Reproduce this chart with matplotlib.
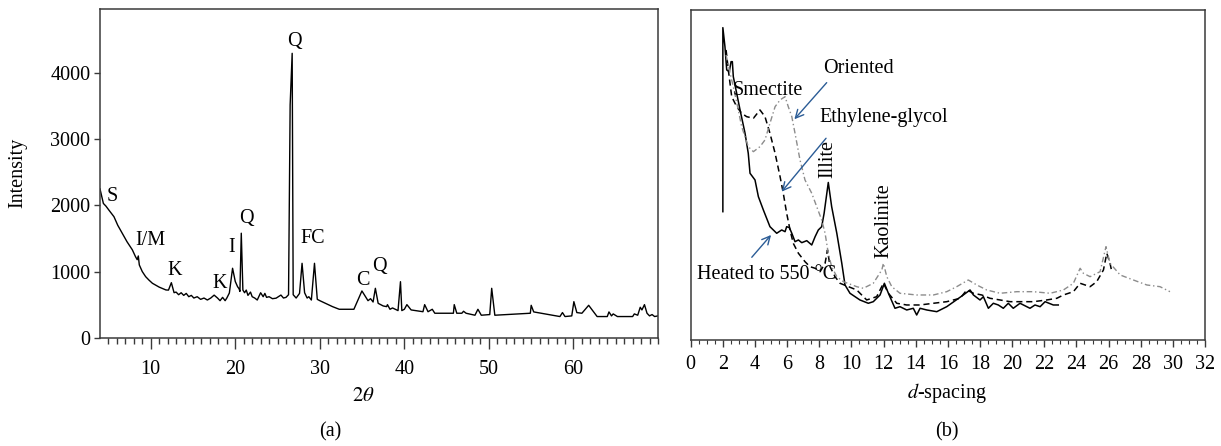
import matplotlib
matplotlib.use('Agg')
import matplotlib.pyplot as plt
import numpy as np

plt.rcParams['font.family'] = ['Liberation Serif', 'DejaVu Serif']
plt.rcParams['mathtext.fontset'] = 'stix'
plt.rcParams['font.size'] = 14.5

# (a) bulk powder pattern
two_theta = [4.0, 4.4, 4.7, 5.05, 5.65, 6.1, 6.63, 7.2, 7.82, 8.2, 8.4, 8.53, 8.65, 9.0, 9.4, 9.8,
             10.2, 11.0, 11.8, 12.1, 12.44, 12.76, 13.0, 13.3, 13.6, 13.9, 14.2, 14.5, 14.8, 15.1,
             15.5, 15.9, 16.3, 16.7, 17.1, 17.5, 17.9, 18.2, 18.5, 18.8, 19.0, 19.3, 19.68, 20.0,
             20.27, 20.45, 20.55, 20.71, 20.9, 21.1, 21.3, 21.5, 21.8, 22.0, 22.3, 22.6, 23.0, 23.3,
             23.5, 23.7, 24.0, 24.4, 24.83, 25.4, 25.7, 26.0, 26.3, 26.49, 26.73, 26.85, 27.2, 27.6,
             27.9, 28.2, 28.5, 28.7, 29.0, 29.37, 29.7, 30.0, 31.5, 32.3, 34.03, 34.98, 35.7, 36.0,
             36.3, 36.57, 36.9, 37.5, 37.9, 38.0, 38.3, 38.6, 39.25, 39.54, 39.7, 40.0, 40.3, 40.8,
             41.8, 42.2, 42.4, 42.8, 43.3, 43.6, 45.8, 45.9, 46.2, 46.8, 47.0, 47.3, 48.35, 48.7,
             49.1, 50.1, 50.33, 50.7, 54.9, 55.0, 55.3, 58.4, 58.7, 59.0, 59.8, 60.05, 60.4, 61.0,
             61.8, 62.8, 64.0, 64.2, 64.5, 64.7, 65.2, 67.0, 67.2, 67.6, 67.9, 68.1, 68.4, 68.7,
             69.0, 69.3, 69.6, 70.0]
intensity = [2250, 2030, 1990, 1930, 1830, 1700, 1580, 1450, 1330, 1225, 1180, 1236, 1100, 1000, 923, 870,
             823, 765, 722, 720, 832, 681, 690, 650, 680, 640, 670, 620, 640, 600,
             620, 580, 600, 570, 600, 644, 600, 560, 610, 560, 600, 676, 1050, 850,
             772, 740, 700, 1580, 721, 680, 720, 640, 690, 620, 600, 570, 680, 620,
             670, 610, 620, 590, 598, 645, 600, 610, 650, 3520, 4300, 650, 600, 670,
             1125, 680, 600, 620, 570, 1125, 580, 560, 470, 430, 430, 707, 560, 590,
             540, 747, 520, 480, 470, 500, 430, 450, 410, 847, 410, 430, 500, 420,
             400, 393, 500, 393, 430, 370, 370, 500, 370, 370, 400, 370, 340, 430,
             340, 350, 747, 340, 370, 490, 390, 320, 380, 320, 330, 545, 380, 370,
             490, 320, 320, 390, 330, 360, 320, 320, 360, 340, 460, 420, 500, 370,
             330, 350, 320, 330]

peak_labels = ['S', 'I/M', 'K', 'K', 'I', 'Q', 'Q', 'FC', 'C', 'Q']
peak_label_x = [5.44, 10.0, 12.85, 18.1, 19.6, 21.27, 27.0, 29.17, 35.1, 37.08]
peak_label_y = [2133, 1467, 1014, 823, 1368, 1796, 4478, 1504, 858, 1074]

# (b) oriented clay fraction, three treatments
heated_d = [2.0, 2.0, 2.13, 2.24, 2.40, 2.51, 2.59, 2.65, 2.86, 3.07, 3.38, 3.58, 3.69, 4.00, 4.21,
            4.52, 4.93, 5.35, 5.66, 5.87, 5.97, 6.14, 6.29, 6.49, 6.70, 6.91, 7.22, 7.53, 7.74,
            7.94, 8.15, 8.30, 8.56, 8.77, 9.09, 9.40, 9.60, 9.91, 10.53, 11.05, 11.36, 11.78,
            12.05, 12.30, 12.71, 13.02, 13.44, 13.85, 14.06, 14.27, 14.69, 15.31, 15.93, 16.96,
            17.38, 17.59, 18.00, 18.21, 18.52, 18.83, 19.14, 19.45, 19.76, 20.07, 20.49, 20.91,
            21.11, 21.42, 21.74, 22.05, 22.56, 22.87]
heated_i = [1283, 3123, 2933, 2700, 2683, 2783, 2783, 2633, 2467, 2300, 2067, 1867, 1667, 1600, 1433,
            1300, 1133, 1067, 1100, 1083, 1133, 1123, 1067, 983, 1000, 973, 993, 950, 1033,
            1100, 1133, 1267, 1575, 1333, 1067, 767, 550, 467, 400, 367, 383, 450,
            567, 467, 317, 333, 300, 317, 250, 317, 300, 283, 333, 450,
            500, 450, 400, 433, 317, 367, 350, 317, 367, 317, 367, 333,
            317, 350, 333, 383, 350, 350]

glycol_d = [2.20, 2.34, 2.55, 2.86, 3.17, 3.48, 3.90, 4.31, 4.62, 4.93, 5.25, 5.56, 5.76, 5.97, 6.18,
            6.38, 6.70, 7.11, 7.42, 7.74, 8.05, 8.36, 8.51, 8.67, 8.98, 9.29, 10.33, 10.95, 11.57,
            11.99, 12.30, 12.82, 13.44, 14.27, 15.10, 15.93, 16.76, 17.18, 17.59, 18.11, 18.62,
            19.25, 19.87, 20.49, 21.32, 22.15, 22.78, 23.19, 23.81, 24.23, 24.85, 25.26, 25.68,
            25.89, 26.09, 26.20]
glycol_i = [2900, 2700, 2433, 2333, 2267, 2233, 2217, 2300, 2233, 2067, 1867, 1633, 1467, 1267, 1100,
            967, 867, 783, 733, 717, 683, 767, 900, 733, 633, 567, 500, 400, 433,
            567, 467, 367, 350, 350, 367, 383, 417, 500, 467, 450, 417,
            400, 383, 383, 383, 400, 417, 450, 483, 567, 533, 583, 700,
            867, 767, 683]

oriented_d = [2.20, 2.45, 2.65, 2.96, 3.17, 3.58, 3.90, 4.31, 4.62, 4.93, 5.25, 5.56, 5.87, 6.07, 6.29,
              6.49, 6.80, 7.11, 7.53, 7.84, 8.15, 8.36, 8.56, 8.77, 9.09, 9.50, 10.33, 10.74, 11.36,
              11.89, 11.99, 12.20, 12.51, 13.02, 14.06, 15.10, 15.93, 16.55, 17.27, 17.80, 18.42,
              19.25, 20.29, 21.32, 22.36, 23.19, 23.81, 24.23, 24.43, 24.85, 25.47, 25.84, 26.09,
              26.72, 27.54, 28.38, 29.20, 29.82]
oriented_i = [2850, 2667, 2533, 2300, 2133, 1933, 1883, 1933, 2000, 2167, 2333, 2400, 2433, 2333, 2233,
              2067, 1800, 1600, 1467, 1333, 1200, 1067, 867, 733, 633, 583, 533, 517, 567,
              700, 767, 633, 533, 467, 450, 450, 483, 533, 600, 550, 500,
              467, 483, 483, 467, 500, 567, 717, 667, 633, 683, 933, 767,
              650, 600, 550, 533, 483]

frame_col = '#3a3a3a'
arrow_col = '#2b5c96'

fig = plt.figure(figsize=(12.21, 4.46), dpi=100)
ax1 = fig.add_axes([0.0819, 0.2428, 0.457, 0.737])
ax2 = fig.add_axes([0.5657, 0.2377, 0.4212, 0.740])

# --- panel (a)
ax1.plot(two_theta, intensity, color='black', lw=1.0)
for lab, x, y in zip(peak_labels, peak_label_x, peak_label_y):
    ax1.text(x, y, lab, ha='center', va='center', fontsize=14.5)
ax1.set_xlim(4, 70)
ax1.set_ylim(0, 4970)
ax1.set_xticks(np.arange(10, 70, 10))
ax1.set_xticks(np.arange(5, 71, 1), minor=True)
ax1.set_yticks(np.arange(0, 4001, 1000))
ax1.tick_params(axis='x', which='major', direction='out', length=8, width=1.0, color=frame_col, pad=8)
ax1.tick_params(axis='x', which='minor', direction='out', length=4, width=1.0, color=frame_col)
ax1.tick_params(axis='y', which='major', direction='out', length=4, width=1.0, color=frame_col, pad=3)

# --- panel (b)
ax2.plot(heated_d, heated_i, color='black', lw=1.1)
ax2.plot(glycol_d, glycol_i, color='black', lw=1.1, dashes=(4, 2.5))
ax2.plot(oriented_d, oriented_i, color='#8c8c8c', lw=1.0, dashes=(4, 2, 1, 2))

ax2.text(4.8, 2490, 'Smectite', ha='center', va='center', fontsize=14.5)
ax2.text(8.23, 2717, 'Oriented', ha='left', va='center', fontsize=14.5)
ax2.text(8.04, 2227, 'Ethylene-glycol', ha='left', va='center', fontsize=14.5)
ax2.text(0.39, 650, 'Heated to 550 °C', ha='left', va='center', fontsize=14.5)
ax2.text(8.56, 1620, 'Illite', rotation=90, ha='center', va='bottom', fontsize=14.5)
ax2.text(12.05, 820, 'Kaolinite', rotation=90, ha='center', va='bottom', fontsize=14.5)

arrow = dict(arrowstyle='->', color=arrow_col, lw=1.0, shrinkA=0, shrinkB=0)
ax2.annotate('', xy=(6.45, 2207), xytext=(8.46, 2573), arrowprops=arrow)
ax2.annotate('', xy=(5.66, 1483), xytext=(8.42, 2017), arrowprops=arrow)
ax2.annotate('', xy=(5.0, 1050), xytext=(3.80, 827), arrowprops=arrow)

ax2.set_xlim(0, 32)
ax2.set_ylim(0, 3300)
ax2.set_xticks(np.arange(0, 33, 2))
ax2.set_xticks(np.arange(0, 32.1, 0.5), minor=True)
ax2.set_yticks([])
ax2.tick_params(axis='x', which='major', direction='out', length=5, width=1.0, color=frame_col, pad=6)
ax2.tick_params(axis='x', which='minor', direction='out', length=3, width=0.8, color=frame_col)

for ax in (ax1, ax2):
    for sp in ax.spines.values():
        sp.set_color(frame_col)
        sp.set_linewidth(1.1)

fig.text(0.0147, 0.612, 'Intensity', rotation=90, ha='center', va='center', fontsize=14.5)
fig.text(363 / 1221, 0.1099, r'$\mathit{2\theta}$', ha='center', va='center', fontsize=15)
fig.text(947 / 1221, 0.1188, r'$d$-spacing', ha='center', va='center', fontsize=14.5)
fig.text(330 / 1221, 0.0314, '(a)', ha='center', va='center', fontsize=14.5)
fig.text(947 / 1221, 0.0314, '(b)', ha='center', va='center', fontsize=14.5)

fig.savefig('out.png', dpi=100)
